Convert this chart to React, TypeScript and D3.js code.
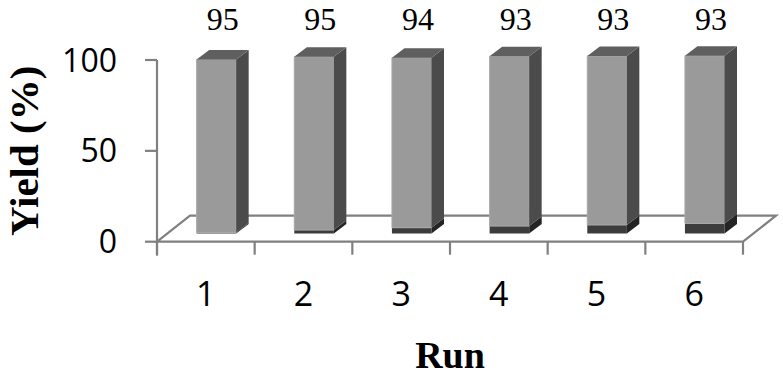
import React from 'react';
import * as d3 from 'd3';

const runs = ['1', '2', '3', '4', '5', '6'];
const darkValues = [0.5, 1.8, 3.1, 4.0, 4.6, 5.5];
const yieldValues = [95.2, 95.4, 93.6, 93.5, 93.0, 92.2];
const yieldLabels = ['95', '95', '94', '93', '93', '93'];
const yTicks = [0, 50, 100];

const W = 783, H = 375;

export default function App() {
  const left = 157, right = 743, floorY = 241.7;
  const floorDx = 33, floorDy = 26;
  const depthF = 0.32;
  const barDx = 12.5, barDy = 9.5;

  const x = d3.scaleBand().domain(runs).range([left, right]).padding(0);
  const y = d3.scaleLinear().domain([0, 100]).range([floorY, 60]);
  const barW = x.bandwidth() * 0.405;

  const ox = floorDx * depthF, oy = -floorDy * depthF;

  const poly = (pts: number[][]) => 'M' + pts.map(p => p.join(',')).join('L') + 'Z';

  const floor = poly([
    [left, floorY], [right, floorY],
    [right + floorDx, floorY - floorDy], [left + floorDx, floorY - floorDy],
  ]);

  const seg = (x0: number, v0: number, v1: number) => {
    const xa = x0 + ox, xb = x0 + ox + barW;
    const ya = y(v0) + oy, yb = y(v1) + oy;
    return {
      front: poly([[xa, ya], [xb, ya], [xb, yb], [xa, yb]]),
      side: poly([[xb, ya], [xb + barDx, ya - barDy], [xb + barDx, yb - barDy], [xb, yb]]),
      top: poly([[xa, yb], [xb, yb], [xb + barDx, yb - barDy], [xa + barDx, yb - barDy]]),
    };
  };

  const serif = "'Liberation Serif', 'Times New Roman', serif";
  const sans = "'Open Sans', sans-serif";

  return (
    <div style={{ position: 'absolute', left: 0, top: 0 }}>
      <svg width={W} height={H} style={{ display: 'block', background: '#fff' }}>
        <path d={floor} fill="#fff" stroke="#808080" strokeWidth={2.2} />
        {/* y axis */}
        <line x1={left} x2={left} y1={y(100)} y2={floorY + 14} stroke="#808080" strokeWidth={2.2} />
        {yTicks.map(t => (
          <g key={t}>
            <line x1={left - 12} x2={left} y1={y(t)} y2={y(t)} stroke="#808080" strokeWidth={2.2} />
            <text x={117} y={y(t)} dy="0.36em" textAnchor="end" fontFamily={sans} fontSize={32} fill="#000">{t}</text>
          </g>
        ))}
        {/* x ticks */}
        {runs.concat(['end']).map((r, i) => {
          const xx = i < runs.length ? (x(r) as number) : right;
          return <line key={r} x1={xx} x2={xx} y1={floorY} y2={floorY + 13} stroke="#808080" strokeWidth={2.2} />;
        })}
        {runs.map(r => (
          <text key={r} x={(x(r) as number) + x.bandwidth() / 2} y={306} textAnchor="middle" fontFamily={sans} fontSize={34} fill="#000">{r}</text>
        ))}
        {/* bars */}
        {runs.map((r, i) => {
          const x0 = (x(r) as number) + (x.bandwidth() - barW) / 2;
          const d = seg(x0, 0, darkValues[i]);
          const g = seg(x0, darkValues[i], darkValues[i] + yieldValues[i]);
          return (
            <g key={r}>
              <path d={d.front} fill="#3c3c3c" />
              <path d={d.side} fill="#242424" />
              <path d={g.front} fill="#9a9a9a" stroke="#a8a8a8" strokeWidth={1} />
              <path d={g.side} fill="#4b4b4b" />
              <path d={g.top} fill="#5f5f5f" />
            </g>
          );
        })}
        {/* value labels */}
        {runs.map((r, i) => (
          <text key={r} x={(x(r) as number) + x.bandwidth() / 2 + ox + barDx / 2} y={30} textAnchor="middle" fontFamily={serif} fontSize={32} fill="#000">{yieldLabels[i]}</text>
        ))}
        <text transform={`translate(38,${(y(0) + y(100)) / 2}) rotate(-90)`} textAnchor="middle" fontFamily={serif} fontWeight="bold" fontSize={41} fill="#000">Yield (%)</text>
        <text x={450} y={368} textAnchor="middle" fontFamily={serif} fontWeight="bold" fontSize={38} fill="#000">Run</text>
      </svg>
    </div>
  );
}
